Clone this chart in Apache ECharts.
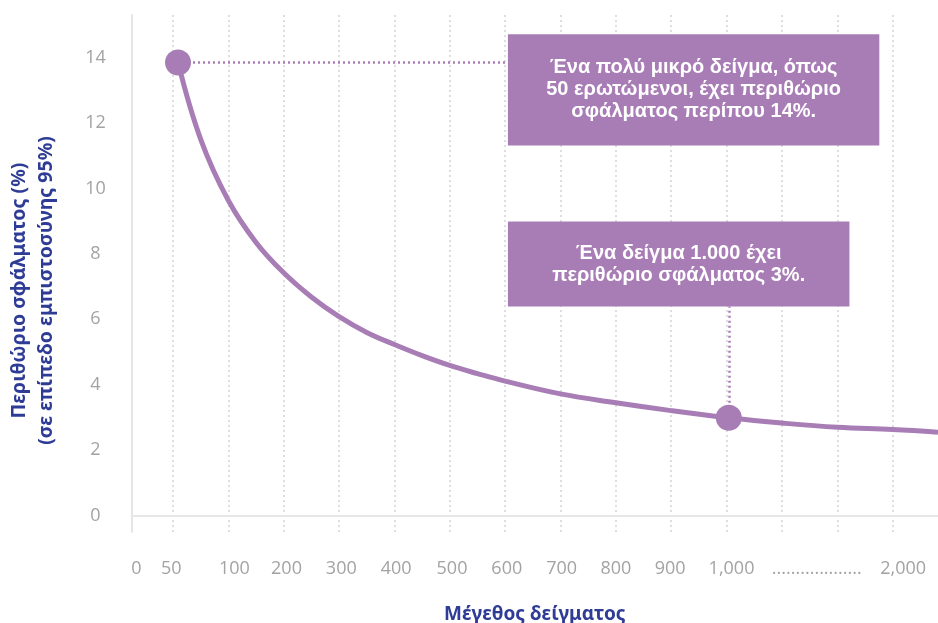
<!DOCTYPE html>
<html>
<head>
<meta charset="utf-8">
<script src="https://cdn.jsdelivr.net/npm/echarts@6/dist/echarts.min.js"></script>
<style>html,body{margin:0;padding:0;background:#fff}#c{width:938px;height:623px}</style>
</head>
<body>
<div id="c"></div>
<script>
// x axis is an ordinal "slot" scale: slot 1 = 50, slot k = (k-1)*100 up to 1,000, slot 14 = 2,000
const tickLabels = ['0', '50', '100', '200', '300', '400', '500', '600', '700', '800', '900', '1,000', '...................', '2,000'];
const labelSlots = [0.34, 0.97, 2.11, 3.05, 4.04, 5.03, 6.04, 7.03, 8.02, 9.0, 9.98, 11.09, 12.63, 14.19];
const gridSlots = [1, 2, 3, 4, 5, 6, 7, 8, 9, 10, 11, 12, 13, 14];
const yTicks = [0, 2, 4, 6, 8, 10, 12, 14];

// curve: [slot, margin of error %]
const curveSlots = [1.09, 1.5, 2.0, 2.5, 3.0, 3.5, 4.0, 4.5, 5.0, 5.5, 6.0, 6.5, 7.0, 8.0, 9.0, 10.0, 11.04, 12.0, 13.0, 14.0, 14.82];
const curveValues = [13.85, 11.5, 9.63, 8.35, 7.42, 6.68, 6.08, 5.6, 5.23, 4.89, 4.59, 4.34, 4.11, 3.72, 3.45, 3.21, 2.99, 2.83, 2.70, 2.63, 2.55];

// highlighted points: n = 50 and n = 1,000
const highlightSlots = [1.09, 11.04];
const highlightValues = [13.85, 2.99];

const note1 = 'Ένα πολύ μικρό δείγμα, όπως\n50 ερωτώμενοι, έχει περιθώριο\nσφάλματος περίπου 14%.';
const note2 = 'Ένα δείγμα 1.000 έχει\nπεριθώριο σφάλματος 3%.';
// annotation boxes in axis units: [xStart, yTop, xEnd, yBottom]
const box1 = [7.05, 14.71, 13.76, 11.31];
const box2 = [7.05, 8.99, 13.22, 6.39];

const purple = '#a87db6';
const navy = '#2e3c96';

const chart = echarts.init(document.getElementById('c'));
const boxLabel = {
  show: true, position: 'inside', color: '#fff', fontFamily: 'Liberation Sans',
  fontWeight: 700, fontSize: 20, lineHeight: 22, align: 'center'
};
chart.setOption({
  animation: false,
  grid: { left: 131.5, right: 0, top: 15, bottom: 91, outerBoundsMode: 'none', containLabel: false },
  xAxis: {
    type: 'value', min: 0.25, max: 14.82,
    name: 'Μέγεθος δείγματος', nameLocation: 'middle', nameGap: 73,
    nameTextStyle: { color: navy, fontWeight: 'bold', fontSize: 19, fontFamily: 'Noto Sans' },
    axisLine: { show: true, lineStyle: { color: '#e6e6e6', width: 2 } },
    axisTick: { show: false, customValues: gridSlots },
    splitLine: { show: true, lineStyle: { color: '#dedede', width: 2, type: [2, 3] } },
    axisLabel: {
      customValues: labelSlots, margin: 28, color: '#a3a3a3', fontSize: 18, fontFamily: 'Open Sans',
      formatter: function (v) {
        let best = 0, d = 1e9;
        labelSlots.forEach(function (s, i) { if (Math.abs(s - v) < d) { d = Math.abs(s - v); best = i; } });
        return tickLabels[best];
      }
    }
  },
  yAxis: {
    type: 'value', min: -0.5, max: 15.3,
    name: 'Περιθώριο σφάλματος (%)\n(σε επίπεδο εμπιστοσύνης 95%)',
    nameLocation: 'middle', nameGap: 72, nameRotate: 90,
    nameTextStyle: { color: navy, fontWeight: 'bold', fontSize: 19.5, lineHeight: 27, fontFamily: 'Noto Sans', padding: [0, 34, 0, 0] },
    axisLine: { show: true, lineStyle: { color: '#e6e6e6', width: 2 } },
    axisTick: { show: false, customValues: yTicks },
    splitLine: { show: false },
    axisLabel: { customValues: yTicks, margin: 36, align: 'center', color: '#a3a3a3', fontSize: 18, fontFamily: 'Open Sans' }
  },
  series: [
    {
      type: 'line', smooth: 0.4, showSymbol: false,
      data: curveSlots.map(function (s, i) { return [s, curveValues[i]]; }),
      lineStyle: { color: purple, width: 5 },
      markArea: {
        silent: true,
        itemStyle: { color: purple, opacity: 1 },
        label: boxLabel,
        data: [
          [{ coord: [box1[0], box1[1]], name: note1 }, { coord: [box1[2], box1[3]] }],
          [{ coord: [box2[0], box2[1]], name: note2 }, { coord: [box2[2], box2[3]] }]
        ]
      },
      markLine: {
        silent: true, symbol: 'none', label: { show: false },
        lineStyle: { color: purple, width: 2.5, type: [2, 3] },
        data: [
          [{ coord: [highlightSlots[0], highlightValues[0]] }, { coord: [box1[0], highlightValues[0]] }],
          [{ coord: [highlightSlots[1], highlightValues[1]] }, { coord: [highlightSlots[1], box2[3]] }]
        ]
      }
    },
    {
      type: 'scatter', symbolSize: 26, z: 5,
      itemStyle: { color: purple, opacity: 1 },
      data: highlightSlots.map(function (s, i) { return [s, highlightValues[i]]; })
    }
  ]
});
</script>
</body>
</html>
